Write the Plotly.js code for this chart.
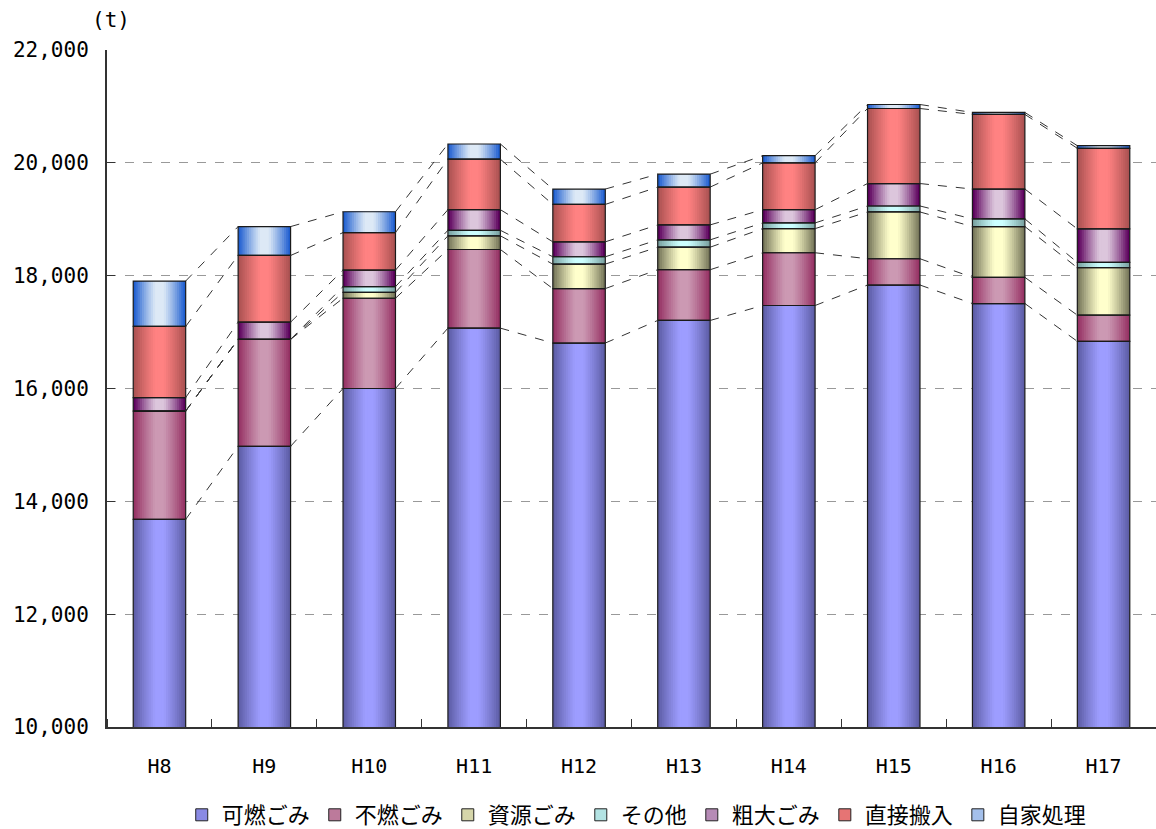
<!DOCTYPE html>
<html>
<head>
<meta charset="utf-8">
<script src="https://cdn.plot.ly/plotly-3.0.1.min.js"></script>
<style>html,body{margin:0;padding:0;background:#fff;}#chart{width:1156px;height:829px;}</style>
</head>
<body>
<div id="chart"></div>
<script>
// ---- data ----
const categories = ['H8','H9','H10','H11','H12','H13','H14','H15','H16','H17'];
const seriesNames = ['可燃ごみ','不燃ごみ','資源ごみ','その他','粗大ごみ','直接搬入','自家処理'];
const kanen   = [13680,14975,16000,17070,16806,17206,17471,17834,17506,16836];
const funen   = [1920,1896,1600,1394,965,900,935,466,464,464];
const shigen  = [0,0,105,242,434,399,428,829,900,841];
const sonota  = [0,0,100,98,130,130,101,106,136,94];
const sodai   = [240,305,293,366,265,265,235,398,529,594];
const chokusetsu = [1260,1182,665,894,663,670,829,1330,1323,1429];
const jika    = [805,512,370,270,272,229,128,71,35,46];
const yTickVals = [10000,12000,14000,16000,18000,20000,22000];

const values = [kanen,funen,shigen,sonota,sodai,chokusetsu,jika];
const edgeColors   = ['#5e5ea6','#963264','#77775a','#7aa2a2','#5c005c','#ab5252','#1f5fd0'];
const centerColors = ['#9d9dff','#cc99b3','#ffffcc','#ccffff','#dcc6dc','#ff8282','#dde9f6'];

function hex2rgb(h){return [parseInt(h.substr(1,2),16),parseInt(h.substr(3,2),16),parseInt(h.substr(5,2),16)];}
function mix(a,b,t){const A=hex2rgb(a),B=hex2rgb(b);return 'rgb('+A.map((v,i)=>Math.round(v+(B[i]-v)*t)).join(',')+')';}

const xIdx = categories.map((c,i)=>i);
const BW = 0.5;
const N = 12;

// cumulative bases
const bases = [];
const tops = [];
let run = categories.map(()=>0);
values.forEach(v=>{
  bases.push(run.slice());
  run = run.map((r,i)=>r+v[i]);
  tops.push(run.slice());
});

const traces = [];
// gradient layers
values.forEach((v,s)=>{
  for(let k=0;k<N;k++){
    const w = BW*(1-k/N);
    const f = w/BW;
    const t = Math.min(1, 1.15*(1 - Math.pow(f,1.25)));
    traces.push({
      type:'bar', x:xIdx, y:v, base:bases[s], width:w,
      marker:{color:mix(edgeColors[s],centerColors[s],t), line:{width:0}},
      showlegend:false, hoverinfo:'skip'
    });
  }
});
// outlines
values.forEach((v,s)=>{
  traces.push({
    type:'bar', x:xIdx, y:v, base:bases[s], width:BW,
    marker:{color:'rgba(0,0,0,0)', line:{width:1.2,color:'#1a1a1a'}},
    showlegend:false, hoverinfo:'skip'
  });
});
// series lines
tops.forEach((tp,s)=>{
  const lx=[], ly=[];
  for(let i=0;i<categories.length-1;i++){
    lx.push(xIdx[i]+BW/2, xIdx[i+1]-BW/2, null);
    ly.push(tp[i], tp[i+1], null);
  }
  traces.push({type:'scatter',mode:'lines',x:lx,y:ly,line:{color:'#333',width:1,dash:'dash'},showlegend:false,hoverinfo:'skip'});
});
// legend entries
values.forEach((v,s)=>{
  traces.push({
    type:'bar', x:[null], y:[null], name:seriesNames[s],
    marker:{color:mix(edgeColors[s],centerColors[s],0.7), line:{width:1,color:'#222'}},
    showlegend:true, hoverinfo:'skip'
  });
});

const layout = {
  width:1156, height:829,
  margin:{l:107, r:0, t:50, b:102, autoexpand:false},
  paper_bgcolor:'#fff', plot_bgcolor:'#fff',
  barmode:'overlay',
  showlegend:true,
  font:{family:'DejaVu Sans Mono, Noto Sans CJK JP', color:'#000'},
  xaxis:{
    range:[-0.5, categories.length-0.5],
    tickmode:'array', tickvals:xIdx, ticktext:categories,
    ticks:'', showgrid:false, zeroline:false,
    showline:true, linecolor:'#333', linewidth:2,
    tickfont:{family:'DejaVu Sans Mono', size:20, color:'#000'},
    ticklabelstandoff:20,
    minor:{tick0:0.5, dtick:1, ticks:'inside', ticklen:8, tickcolor:'#333', tickwidth:1, showgrid:false}
  },
  yaxis:{
    range:[10000,22000],
    tickmode:'array', tickvals:yTickVals, tickformat:',d',
    ticks:'inside', ticklen:8, tickcolor:'#333', tickwidth:1,
    showline:true, linecolor:'#333', linewidth:2,
    showgrid:true, gridcolor:'#999', griddash:'dash', gridwidth:1,
    zeroline:false,
    tickfont:{family:'DejaVu Sans Mono', size:21, color:'#000'},
    ticklabelstandoff:12
  },
  legend:{
    orientation:'h', x:0.505, xanchor:'center', y:-0.13, yanchor:'middle',
    traceorder:'normal',
    font:{family:'Noto Sans CJK JP', size:22, color:'#000'},
    itemwidth:30
  },
  annotations:[{
    text:'(t)', xref:'paper', yref:'paper', x:0.004, y:1, xanchor:'center', yanchor:'bottom',
    yshift:16, showarrow:false, font:{family:'DejaVu Sans Mono', size:21, color:'#000'}
  }]
};

Plotly.newPlot('chart', traces, layout, {displayModeBar:false, staticPlot:true});
</script>
</body>
</html>
